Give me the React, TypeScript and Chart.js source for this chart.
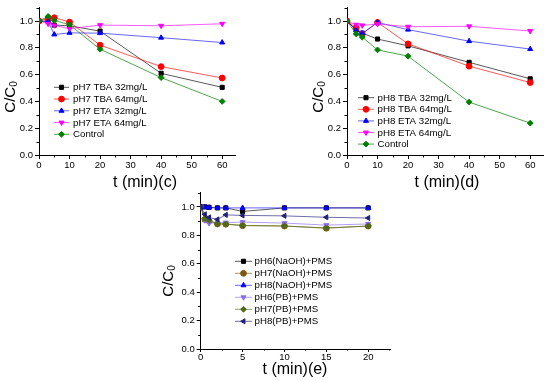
import React, { useEffect, useRef } from 'react';
import { Chart, registerables } from 'chart.js';

Chart.register(...registerables);

// ---------- data ----------
const TIME_CD = [0, 3, 5, 10, 20, 40, 60];
const TIME_E = [0, 0.5, 1, 2, 3, 5, 10, 15, 20];

const Y_TICKS = [0, 0.2, 0.4, 0.6, 0.8, 1.0];
const Y_MINOR = [0.1, 0.3, 0.5, 0.7, 0.9, 1.1];
const X_TICKS_CD = [0, 10, 20, 30, 40, 50, 60];
const X_MINOR_CD = [5, 15, 25, 35, 45, 55];
const X_TICKS_E = [0, 5, 10, 15, 20];
const X_MINOR_E = [2.5, 7.5, 12.5, 17.5, 22.5];

const LABELS_C = ['pH7 TBA 32mg/L', 'pH7 TBA 64mg/L', 'pH7 ETA 32mg/L', 'pH7 ETA 64mg/L', 'Control'];
const C_TBA32 = [1.0, 1.0, 0.97, 0.965, 0.925, 0.61, 0.505];
const C_TBA64 = [1.0, 1.02, 1.025, 0.993, 0.82, 0.66, 0.575];
const C_ETA32 = [1.0, 0.997, 0.9, 0.912, 0.91, 0.876, 0.84];
const C_ETA64 = [1.0, 0.98, 0.968, 0.943, 0.97, 0.965, 0.98];
const C_CONTROL = [1.0, 1.035, 1.005, 0.973, 0.79, 0.578, 0.4];

const LABELS_D = ['pH8 TBA 32mg/L', 'pH8 TBA 64mg/L', 'pH8 ETA 32mg/L', 'pH8 ETA 64mg/L', 'Control'];
const D_TBA32 = [1.0, 0.936, 0.91, 0.866, 0.815, 0.692, 0.569];
const D_TBA64 = [1.0, 0.95, 0.905, 0.99, 0.83, 0.663, 0.541];
const D_ETA32 = [1.0, 0.93, 0.908, 0.99, 0.936, 0.85, 0.791];
const D_ETA64 = [1.0, 0.973, 0.968, 0.978, 0.958, 0.961, 0.926];
const D_CONTROL = [1.0, 0.904, 0.88, 0.785, 0.738, 0.395, 0.238];

const LABELS_E = ['pH6(NaOH)+PMS', 'pH7(NaOH)+PMS', 'pH8(NaOH)+PMS', 'pH6(PB)+PMS', 'pH7(PB)+PMS', 'pH8(PB)+PMS'];
const E_PH6_NAOH = [1.0, 1.0, 0.997, 0.993, 0.993, 0.968, 0.993, 0.993, 0.993];
const E_PH7_NAOH = [1.0, 0.912, 0.9, 0.88, 0.878, 0.868, 0.865, 0.85, 0.865];
const E_PH8_NAOH = [1.0, 0.998, 0.995, 0.993, 0.993, 0.993, 0.993, 0.993, 0.993];
const E_PH6_PB = [1.0, 0.905, 0.885, 0.89, 0.89, 0.893, 0.886, 0.872, 0.88];
const E_PH7_PB = [1.0, 0.918, 0.905, 0.882, 0.88, 0.87, 0.866, 0.852, 0.866];
const E_PH8_PB = [1.0, 0.948, 0.926, 0.912, 0.944, 0.94, 0.937, 0.927, 0.922];

// ---------- styles ----------
const FONT = '"Liberation Sans", Arial, Helvetica, sans-serif';

type Style = { color: string; line: string; shape: string; rot: number };
const STYLE_CD: Style[] = [
  { color: '#000000', line: 'rgba(0,0,0,0.65)', shape: 'rect', rot: 0 },
  { color: '#ff0000', line: 'rgba(255,0,0,0.65)', shape: 'circle', rot: 0 },
  { color: '#0000ff', line: 'rgba(0,0,255,0.6)', shape: 'triangle', rot: 0 },
  { color: '#ff00ff', line: 'rgba(255,0,255,0.65)', shape: 'triangle', rot: 180 },
  { color: '#008000', line: 'rgba(0,128,0,0.7)', shape: 'rectRot', rot: 0 },
];
const STYLE_E: Style[] = [
  { color: '#000000', line: 'rgba(0,0,0,0.65)', shape: 'rect', rot: 0 },
  { color: '#7a5a10', line: 'rgba(122,90,16,0.65)', shape: 'circle', rot: 0 },
  { color: '#0000ff', line: 'rgba(0,0,255,0.6)', shape: 'triangle', rot: 0 },
  { color: '#8a6cf0', line: 'rgba(138,108,240,0.65)', shape: 'triangle', rot: 180 },
  { color: '#4f6a16', line: 'rgba(79,106,22,0.65)', shape: 'rectRot', rot: 0 },
  { color: '#20207a', line: 'rgba(32,32,122,0.65)', shape: 'triangle', rot: 270 },
];

const R = 2.9;
const TITLE_SIZE = 16;
const YTITLE_SIZE = 15;
const LEGEND_SIZE = 9.7;

function drawMarker(ctx: CanvasRenderingContext2D, shape: string, rot: number, x: number, y: number, r: number) {
  ctx.beginPath();
  if (shape === 'circle') {
    ctx.arc(x, y, r, 0, Math.PI * 2);
  } else if (shape === 'rect') {
    const s = Math.SQRT1_2 * r;
    ctx.rect(x - s, y - s, 2 * s, 2 * s);
  } else {
    const n = shape === 'triangle' ? 3 : 4;
    let a = (rot * Math.PI) / 180;
    for (let i = 0; i < n; i++) {
      const px = x + Math.sin(a) * r;
      const py = y - Math.cos(a) * r;
      if (i === 0) ctx.moveTo(px, py);
      else ctx.lineTo(px, py);
      a += (Math.PI * 2) / n;
    }
    ctx.closePath();
  }
  ctx.fill();
  ctx.stroke();
}

const decor = {
  id: 'decor',
  afterDraw(chart: any, _args: any, o: any) {
    const ctx: CanvasRenderingContext2D = chart.ctx;
    const xs = chart.scales.x;
    const ys = chart.scales.y;
    const area = chart.chartArea;
    ctx.save();
    ctx.strokeStyle = '#000';
    ctx.lineWidth = 1;
    ctx.beginPath();
    for (const v of o.xMinor) {
      if (v > xs.max) continue;
      const px = Math.round(xs.getPixelForValue(v)) + 0.5;
      ctx.moveTo(px, area.bottom);
      ctx.lineTo(px, area.bottom + o.minorLen);
    }
    for (const v of o.yMinor) {
      if (v > ys.max + 1e-9) continue;
      const py = Math.round(ys.getPixelForValue(v)) + 0.5;
      ctx.moveTo(area.left, py);
      ctx.lineTo(area.left - 2.5, py);
    }
    ctx.stroke();

    // x title
    ctx.fillStyle = '#000';
    ctx.font = `${TITLE_SIZE}px ${FONT}`;
    ctx.textAlign = 'center';
    ctx.textBaseline = 'middle';
    ctx.fillText(o.xTitle, o.xTitleX - o.ox, o.xTitleY - o.oy);

    // y title C/C0 rotated
    ctx.save();
    ctx.translate(o.yTitleX - o.ox, o.yTitleY - o.oy);
    ctx.rotate(-Math.PI / 2);
    ctx.font = `${YTITLE_SIZE}px ${FONT}`;
    const mainW = ctx.measureText('C/C').width;
    ctx.font = `10px ${FONT}`;
    const subW = ctx.measureText('0').width;
    const total = mainW + subW;
    ctx.textAlign = 'left';
    ctx.textBaseline = 'middle';
    ctx.font = `${YTITLE_SIZE}px ${FONT}`;
    ctx.fillText('C/C', -total / 2, 0);
    ctx.font = `10px ${FONT}`;
    ctx.fillText('0', -total / 2 + mainW, 4);
    ctx.restore();

    // legend
    ctx.font = `${LEGEND_SIZE}px ${FONT}`;
    ctx.textAlign = 'left';
    ctx.textBaseline = 'middle';
    chart.data.datasets.forEach((ds: any, i: number) => {
      const st: Style = o.styles[i];
      const y = o.legY0 + i * o.legDy - o.oy;
      ctx.strokeStyle = st.line;
      ctx.lineWidth = 1;
      ctx.beginPath();
      ctx.moveTo(o.legX0 - o.ox, y);
      ctx.lineTo(o.legX1 - o.ox, y);
      ctx.stroke();
      ctx.fillStyle = st.color;
      ctx.strokeStyle = st.color;
      drawMarker(ctx, st.shape, st.rot, (o.legX0 + o.legX1) / 2 - o.ox, y, R);
      ctx.fillStyle = '#000';
      ctx.fillText(ds.label, o.legTX - o.ox, y + 0.5);
    });
    ctx.restore();
  },
};

type Cfg = {
  ox: number; oy: number; w: number; h: number;
  yWidth: number; xHeight: number; padTop: number; padRight: number;
  tickLen: number; tickPad: number;
  xMax: number; xTicks: number[]; xMinor: number[];
  times: number[]; series: number[][]; labels: string[]; styles: Style[];
  xTitle: string; xTitleX: number; xTitleY: number; yTitleX: number; yTitleY: number;
  legX0: number; legX1: number; legTX: number; legY0: number; legDy: number;
};

function build(canvas: HTMLCanvasElement, c: Cfg) {
  const n = c.series.length;
  const datasets = c.series.map((vals, i) => ({
    label: c.labels[i],
    data: vals.map((v, k) => ({ x: c.times[k], y: v })),
    borderColor: c.styles[i].line,
    borderWidth: 1,
    backgroundColor: c.styles[i].color,
    pointBackgroundColor: c.styles[i].color,
    pointBorderColor: c.styles[i].color,
    pointBorderWidth: 1,
    pointStyle: c.styles[i].shape,
    pointRotation: c.styles[i].rot,
    pointRadius: R,
    tension: 0,
    fill: false,
    order: n - i,
  }));
  const tickFont = { family: FONT, size: 9.5 };
  return new Chart(canvas, {
    type: 'line',
    data: { datasets } as any,
    plugins: [decor],
    options: {
      animation: false,
      responsive: false,
      devicePixelRatio: 1,
      events: [],
      layout: { padding: { top: c.padTop, right: c.padRight, left: 0, bottom: 0 } },
      plugins: {
        legend: { display: false },
        tooltip: { enabled: false },
        title: { display: false },
        decor: {
          ox: c.ox, oy: c.oy, xMinor: c.xMinor, yMinor: Y_MINOR, minorLen: c.tickLen - 1.5,
          xTitle: c.xTitle, xTitleX: c.xTitleX, xTitleY: c.xTitleY,
          yTitleX: c.yTitleX, yTitleY: c.yTitleY,
          legX0: c.legX0, legX1: c.legX1, legTX: c.legTX, legY0: c.legY0, legDy: c.legDy,
          styles: c.styles,
        },
      } as any,
      scales: {
        x: {
          type: 'linear',
          min: 0,
          max: c.xMax,
          afterBuildTicks: (s: any) => { s.ticks = c.xTicks.map((v) => ({ value: v })); },
          afterFit: (s: any) => { s.height = c.xHeight; },
          grid: { display: true, drawOnChartArea: false, drawTicks: true, tickLength: c.tickLen, color: '#000', tickColor: '#000' },
          border: { display: true, color: '#000', width: 1 },
          ticks: { font: tickFont, color: '#000', padding: c.tickPad, maxRotation: 0, autoSkip: false, callback: (v: any) => String(v) },
        },
        y: {
          type: 'linear',
          min: 0,
          max: 1.1,
          afterBuildTicks: (s: any) => { s.ticks = Y_TICKS.map((v) => ({ value: v })); },
          afterFit: (s: any) => { s.width = c.yWidth; },
          grid: { display: true, drawOnChartArea: false, drawTicks: true, tickLength: 4, color: '#000', tickColor: '#000' },
          border: { display: true, color: '#000', width: 1 },
          ticks: { font: tickFont, color: '#000', padding: 2, autoSkip: false, callback: (v: any) => Number(v).toFixed(1) },
        },
      },
    } as any,
  });
}

const CFG_C: Cfg = {
  ox: 0, oy: 0, w: 275, h: 190,
  yWidth: 39, xHeight: 35, padTop: 7.3, padRight: 40, tickLen: 4, tickPad: 1,
  xMax: 64.2, xTicks: X_TICKS_CD, xMinor: X_MINOR_CD,
  times: TIME_CD, series: [C_TBA32, C_TBA64, C_ETA32, C_ETA64, C_CONTROL], labels: LABELS_C, styles: STYLE_CD,
  xTitle: 't (min)(c)', xTitleX: 145, xTitleY: 182.5, yTitleX: 10.5, yTitleY: 97,
  legX0: 54, legX1: 69, legTX: 73, legY0: 87.3, legDy: 11.75,
};
const CFG_D: Cfg = {
  ox: 275, oy: 0, w: 275, h: 190,
  yWidth: 72, xHeight: 35, padTop: 6.8, padRight: 7, tickLen: 4, tickPad: 1,
  xMax: 64.2, xTicks: X_TICKS_CD, xMinor: X_MINOR_CD,
  times: TIME_CD, series: [D_TBA32, D_TBA64, D_ETA32, D_ETA64, D_CONTROL], labels: LABELS_D, styles: STYLE_CD,
  xTitle: 't (min)(d)', xTitleX: 447, xTitleY: 182.5, yTitleX: 318.5, yTitleY: 97,
  legX0: 358, legX1: 374, legTX: 377.5, legY0: 97.7, legDy: 11.6,
};
const CFG_E: Cfg = {
  ox: 150, oy: 185, w: 250, h: 196,
  yWidth: 50.7, xHeight: 32, padTop: 2.7, padRight: 10, tickLen: 3, tickPad: 0,
  xMax: 22.6, xTicks: X_TICKS_E, xMinor: X_MINOR_E,
  times: TIME_E, series: [E_PH6_NAOH, E_PH7_NAOH, E_PH8_NAOH, E_PH6_PB, E_PH7_PB, E_PH8_PB], labels: LABELS_E, styles: STYLE_E,
  xTitle: 't (min)(e)', xTitleX: 295, xTitleY: 369.5, yTitleX: 168.5, yTitleY: 281,
  legX0: 235, legX1: 252, legTX: 254.5, legY0: 261.3, legDy: 12,
};

export default function App() {
  const refC = useRef<HTMLCanvasElement>(null);
  const refD = useRef<HTMLCanvasElement>(null);
  const refE = useRef<HTMLCanvasElement>(null);

  useEffect(() => {
    const charts = [
      build(refC.current!, CFG_C),
      build(refD.current!, CFG_D),
      build(refE.current!, CFG_E),
    ];
    return () => charts.forEach((ch) => ch.destroy());
  }, []);

  const cs = (c: Cfg): React.CSSProperties => ({ position: 'absolute', left: c.ox, top: c.oy, width: c.w, height: c.h });

  return (
    <div style={{ position: 'fixed', left: 0, top: 0, width: 550, height: 381, background: '#ffffff', overflow: 'hidden' }}>
      <canvas ref={refC} width={CFG_C.w} height={CFG_C.h} style={cs(CFG_C)} />
      <canvas ref={refD} width={CFG_D.w} height={CFG_D.h} style={cs(CFG_D)} />
      <canvas ref={refE} width={CFG_E.w} height={CFG_E.h} style={cs(CFG_E)} />
    </div>
  );
}
